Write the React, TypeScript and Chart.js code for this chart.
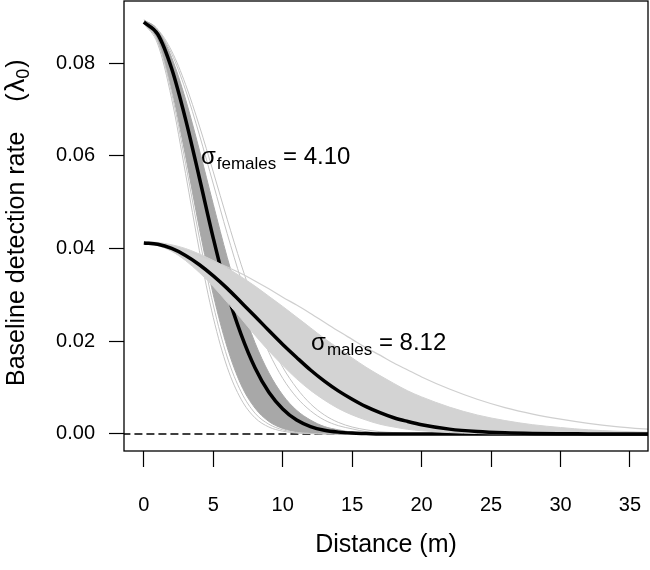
import React, { useEffect, useRef } from "react";
import { Chart, registerables } from "chart.js";

Chart.register(...registerables);

// Distance grid (m)
const distance = [0, 1, 2, 3, 4, 5, 6, 7, 8, 9, 10, 11, 12, 13, 14, 15, 16, 17, 18, 19, 20, 22, 24, 26, 28, 30, 32, 34, 36, 38];

// Females: posterior-mean curve, dense posterior band edges and sparse edge curves
const femaleMean = [0.0888, 0.0862, 0.0788, 0.0679, 0.0552, 0.0422, 0.0305, 0.0215, 0.0143, 0.009, 0.0054, 0.003, 0.0016, 0.0008, 0.0004, 0.0002, 0.0001, 0, 0, 0, 0, 0, 0, 0, 0, 0, 0, 0, 0, 0];
const femaleBandLow = [0.0885, 0.0848, 0.0744, 0.06, 0.0443, 0.03, 0.0187, 0.0106, 0.0056, 0.0027, 0.0012, 0.0005, 0.0002, 0.0001, 0, 0, 0, 0, 0, 0, 0, 0, 0, 0, 0, 0, 0, 0, 0, 0];
const femaleBandHigh = [0.0893, 0.0872, 0.0812, 0.0722, 0.0612, 0.0495, 0.0381, 0.0281, 0.0197, 0.0132, 0.0084, 0.0051, 0.003, 0.0016, 0.0009, 0.0004, 0.0002, 0.0001, 0, 0, 0, 0, 0, 0, 0, 0, 0, 0, 0, 0];
const femaleOuterA = [0.0888, 0.087, 0.082, 0.0742, 0.0645, 0.0539, 0.0432, 0.0333, 0.0247, 0.0176, 0.012, 0.0079, 0.005, 0.003, 0.0018, 0.0011, 0.0005, 0.0003, 0.0001, 0, 0, 0, 0, 0, 0, 0, 0, 0, 0, 0];
const femaleOuterB = [0.0888, 0.0872, 0.0826, 0.0754, 0.0664, 0.0565, 0.0463, 0.0366, 0.0278, 0.0204, 0.0144, 0.0099, 0.0065, 0.0041, 0.0025, 0.0015, 0.0009, 0.0005, 0.0003, 0.0001, 0, 0, 0, 0, 0, 0, 0, 0, 0, 0];
const femaleInnerA = [0.0885, 0.0841, 0.0723, 0.0562, 0.0395, 0.0251, 0.0144, 0.0075, 0.0035, 0.0015, 0.0006, 0.0002, 0.0001, 0, 0, 0, 0, 0, 0, 0, 0, 0, 0, 0, 0, 0, 0, 0, 0, 0];
const femaleInnerB = [0.0887, 0.0847, 0.0736, 0.0584, 0.0422, 0.0278, 0.0166, 0.0091, 0.0045, 0.0021, 0.0009, 0.0003, 0.0001, 0, 0, 0, 0, 0, 0, 0, 0, 0, 0, 0, 0, 0, 0, 0, 0, 0];

// Males: posterior-mean curve, posterior band edges and one outlying curve
const maleMean = [0.0412, 0.0409, 0.04, 0.0385, 0.0365, 0.0341, 0.0314, 0.0284, 0.0254, 0.0223, 0.0193, 0.0165, 0.0138, 0.0114, 0.0093, 0.0075, 0.0059, 0.0046, 0.0035, 0.0027, 0.002, 0.00105, 0.00052, 0.00024, 0.0001, 0.00004, 0.00002, 0, 0, 0];
const maleBandLow = [0.041, 0.0406, 0.0394, 0.0374, 0.0348, 0.0318, 0.0284, 0.0249, 0.0213, 0.0179, 0.0148, 0.0119, 0.0094, 0.0073, 0.0055, 0.0041, 0.003, 0.0021, 0.0015, 0.001, 0.0007, 0.0003, 0.0001, 0, 0, 0, 0, 0, 0, 0];
const maleBandHigh = [0.0415, 0.0413, 0.0408, 0.04, 0.0388, 0.0374, 0.0358, 0.0339, 0.0319, 0.0297, 0.0275, 0.0252, 0.0229, 0.0206, 0.0185, 0.0164, 0.0144, 0.0126, 0.0109, 0.0093, 0.008, 0.0058, 0.0041, 0.0029, 0.002, 0.0014, 0.0009, 0.0006, 0.0004, 0.0003];
const maleOutlier = [0.0412, 0.041, 0.0405, 0.0396, 0.0385, 0.0373, 0.036, 0.0346, 0.033, 0.0313, 0.0295, 0.0278, 0.026, 0.0241, 0.0222, 0.0204, 0.0186, 0.017, 0.0153, 0.0138, 0.0123, 0.0097, 0.0075, 0.0057, 0.0043, 0.0032, 0.0023, 0.0016, 0.0011, 0.0007];

const zeroLineX = [-5, 40];
const zeroLineY = [0, 0];

const xTicks = [0, 5, 10, 15, 20, 25, 30, 35];
const yTicks = [0, 0.02, 0.04, 0.06, 0.08];

const femaleLabel = { x: 4.11, y: 0.0582, sub: "females", value: "= 4.10" };
const maleLabel = { x: 12.04, y: 0.0181, sub: "males", value: "= 8.12" };

const FONT = "'Liberation Sans', Arial, Helvetica, sans-serif";

const pts = (arr: number[]) => distance.map((d, i) => ({ x: d, y: arr[i] }));

const overlay = {
  id: "overlay",
  afterDraw(chart: any) {
    const { ctx, chartArea: a, scales } = chart;
    const xs = scales.x;
    const ys = scales.y;
    ctx.save();
    ctx.strokeStyle = "#000";
    ctx.lineWidth = 1.3;
    ctx.strokeRect(a.left, a.top, a.right - a.left, a.bottom - a.top);

    ctx.fillStyle = "#000";
    ctx.textBaseline = "alphabetic";
    ctx.textAlign = "left";
    const drawLab = (lab: any) => {
      let x = xs.getPixelForValue(lab.x);
      const y = ys.getPixelForValue(lab.y);
      ctx.font = `24px ${FONT}`;
      ctx.fillText("σ", x, y);
      x += ctx.measureText("σ").width + 1;
      ctx.font = `17px ${FONT}`;
      ctx.fillText(lab.sub, x, y + 5);
      x += ctx.measureText(lab.sub).width;
      ctx.font = `24px ${FONT}`;
      ctx.fillText(" " + lab.value, x, y);
    };
    drawLab(femaleLabel);
    drawLab(maleLabel);

    // x title
    ctx.font = `25px ${FONT}`;
    ctx.textAlign = "center";
    ctx.fillText("Distance (m)", (a.left + a.right) / 2, 552);

    // y title (drawn bottom-to-top, starting near the plot bottom)
    ctx.textAlign = "left";
    ctx.translate(24, 386);
    ctx.rotate(-Math.PI / 2);
    let x = 0;
    ctx.font = `25px ${FONT}`;
    const main = "Baseline detection rate";
    ctx.fillText(main, x, 0);
    x += ctx.measureText(main).width + 30;
    ctx.fillText("(", x, 0);
    x += ctx.measureText("(").width + 1;
    ctx.font = `27px ${FONT}`;
    ctx.fillText("λ", x, 0);
    x += ctx.measureText("λ").width;
    ctx.font = `18px ${FONT}`;
    ctx.fillText("0", x, 5);
    x += ctx.measureText("0").width + 1;
    ctx.font = `25px ${FONT}`;
    ctx.fillText(")", x, 0);
    ctx.restore();
  },
};

const line = (data: number[], color: string, width: number, order: number, extra: any = {}) => ({
  data: pts(data),
  borderColor: color,
  borderWidth: width,
  pointRadius: 0,
  fill: false,
  cubicInterpolationMode: "monotone",
  order,
  ...extra,
});

const noPad = (s: any) => {
  s.paddingTop = 0;
  s.paddingBottom = 0;
  s.paddingLeft = 0;
  s.paddingRight = 0;
};

export default function App() {
  const ref = useRef<HTMLCanvasElement | null>(null);
  useEffect(() => {
    document.body.style.margin = "0";
    const canvas = ref.current!;
    const FEM_BAND = "#a8a8a8";
    const FEM_EDGE = "#c4c4c4";
    const MALE_BAND = "#d3d3d3";
    const datasets: any[] = [
      {
        data: zeroLineX.map((x, i) => ({ x, y: zeroLineY[i] })),
        borderColor: "#000",
        borderWidth: 1.3,
        borderDash: [8, 4],
        pointRadius: 0,
        fill: false,
        order: 100,
      },
      line(femaleBandLow, FEM_BAND, 1, 91),
      line(femaleBandHigh, FEM_BAND, 1, 90, { fill: { target: 1 }, backgroundColor: FEM_BAND }),
      line(femaleInnerA, FEM_EDGE, 1, 88),
      line(femaleInnerB, FEM_EDGE, 1, 87),
      line(femaleOuterA, FEM_EDGE, 1, 86),
      line(femaleOuterB, FEM_EDGE, 1, 85),
      line(femaleMean, "#000", 3.5, 80),
      line(maleBandLow, MALE_BAND, 1, 71),
      line(maleBandHigh, MALE_BAND, 1, 70, { fill: { target: 8 }, backgroundColor: MALE_BAND }),
      line(maleOutlier, "#cfcfcf", 1.2, 65),
      line(maleMean, "#000", 3.5, 60),
    ];
    const chart = new Chart(canvas, {
      type: "line",
      data: { datasets },
      options: {
        responsive: false,
        animation: false,
        devicePixelRatio: 1,
        layout: { padding: { top: 1, right: 2, left: 0, bottom: 0 } },
        plugins: { legend: { display: false }, tooltip: { enabled: false } },
        scales: {
          x: {
            type: "linear",
            position: "bottom",
            min: -1.43,
            max: 36.3,
            afterBuildTicks: (s: any) => {
              s.ticks = xTicks.map((v) => ({ value: v }));
            },
            afterFit: (s: any) => {
              s.height = 119;
              noPad(s);
            },
            grid: { drawOnChartArea: false, drawTicks: true, tickLength: 16, tickColor: "#000", tickWidth: 1.2 },
            border: { display: false },
            ticks: {
              color: "#000",
              font: { family: FONT, size: 20 },
              padding: 26,
              maxRotation: 0,
              autoSkip: false,
              callback: (v: any) => String(v),
            },
          },
          y: {
            type: "linear",
            position: "left",
            min: -0.00367,
            max: 0.09337,
            afterBuildTicks: (s: any) => {
              s.ticks = yTicks.map((v) => ({ value: v }));
            },
            afterFit: (s: any) => {
              s.width = 124;
              noPad(s);
            },
            grid: { drawOnChartArea: false, drawTicks: true, tickLength: 15, tickColor: "#000", tickWidth: 1.2 },
            border: { display: false },
            ticks: {
              color: "#000",
              font: { family: FONT, size: 20 },
              padding: 14,
              autoSkip: false,
              callback: (v: any) => Number(v).toFixed(2),
            },
          },
        },
      },
      plugins: [overlay],
    } as any);
    return () => chart.destroy();
  }, []);
  return (
    <div style={{ position: "absolute", left: 0, top: 0, width: 650, height: 570, background: "#fff" }}>
      <canvas ref={ref} width={650} height={570} style={{ display: "block" }} />
    </div>
  );
}
